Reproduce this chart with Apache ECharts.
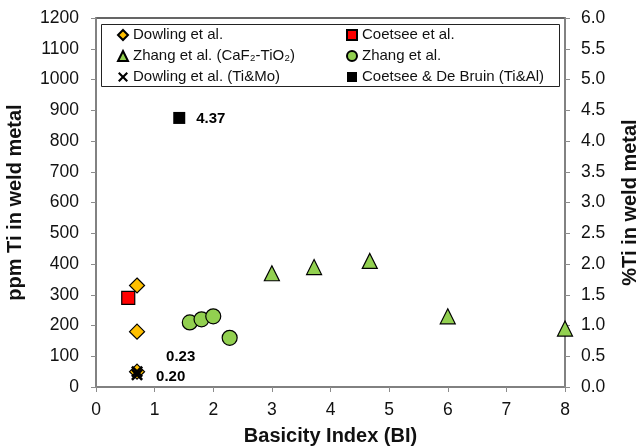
<!DOCTYPE html>
<html><head><meta charset="utf-8">
<script src="https://cdn.jsdelivr.net/npm/echarts@6/dist/echarts.min.js"></script>
<style>html,body{margin:0;padding:0;background:#fff}#c{width:639px;height:447px}</style>
</head><body><div id="c"></div>
<script>
// Data
const dowlingBI = [0.7, 0.7, 0.7];
const dowlingTi = [330, 180, 50];
const coetseeBI = [0.55];
const coetseeTi = [290];
const zhangCaF2BI = [3.0, 3.72, 4.67, 6.0, 8.0];
const zhangCaF2Ti = [370, 390, 410, 230, 190];
const zhangBI = [1.6, 1.8, 2.0, 2.28];
const zhangTi = [210, 220, 230, 160];
const dowlingMoBI = [0.7, 0.7];
const dowlingMoTi = [50, 40];
const dowlingMoLabels = ['0.23', '0.20'];
const cdbBI = [1.42];
const cdbTi = [875];
const cdbLabels = ['4.37'];
const seriesNames = ['Dowling et al.', 'Coetsee et al.', 'Zhang et al. (CaF\u2082-TiO\u2082)', 'Zhang et al.', 'Dowling et al. (Ti&Mo)', 'Coetsee & De Bruin (Ti&Al)'];

const zip = (a, b) => a.map((v, i) => [v, b[i]]);
const FONT = '"Liberation Sans", Arial, sans-serif';
const xPath = 'path://M0,1.5L1.5,0L5,3.5L8.5,0L10,1.5L6.5,5L10,8.5L8.5,10L5,6.5L1.5,10L0,8.5L3.5,5Z';
const axisColor = '#8c8c8c';
const txt = '#111';

const chart = echarts.init(document.getElementById('c'));
const labelStyle = {show: true, fontFamily: FONT, fontWeight: 'bold', fontSize: 15, color: '#000'};
const legendCommon = {orient: 'vertical', top: 22.5, itemGap: 6, itemWidth: 10, itemHeight: 10,
  textStyle: {fontSize: 15, lineHeight: 15, color: txt, fontFamily: FONT}};
chart.setOption({
  animation: false,
  textStyle: {fontFamily: FONT},
  grid: {left: 96, right: 74, top: 18, bottom: 60, show: true, borderColor: '#333', borderWidth: 1.5,
         outerBoundsMode: 'none', containLabel: false},
  legend: [
    Object.assign({left: 112, data: [seriesNames[0], seriesNames[2], seriesNames[4]]}, legendCommon),
    Object.assign({left: 341, data: [seriesNames[1], seriesNames[3], seriesNames[5]]}, legendCommon)
  ],
  graphic: [{type: 'rect', shape: {x: 101.5, y: 24.5, width: 458, height: 62}, style: {fill: 'none', stroke: '#222', lineWidth: 1}, z: 100}],
  xAxis: {
    type: 'value', min: 0, max: 8, interval: 1,
    name: 'Basicity Index (BI)', nameLocation: 'middle', nameGap: 39,
    nameTextStyle: {fontSize: 20, fontWeight: 'bold', color: txt, fontFamily: FONT},
    axisLine: {show: true, onZero: false, lineStyle: {color: axisColor, width: 1.5}},
    axisTick: {show: true, inside: false, length: 5, lineStyle: {color: axisColor}},
    axisLabel: {fontSize: 17.5, color: txt, margin: 14, fontFamily: FONT},
    splitLine: {show: false}
  },
  yAxis: [{
    type: 'value', min: 0, max: 1200, interval: 100,
    name: 'ppm Ti in weld metal', nameLocation: 'middle', nameGap: 71, nameRotate: 90,
    nameTextStyle: {fontSize: 20, fontWeight: 'bold', color: txt, fontFamily: FONT},
    axisLine: {show: true, lineStyle: {color: axisColor, width: 1.5}},
    axisTick: {show: true, length: 5, lineStyle: {color: axisColor}},
    axisLabel: {fontSize: 17.5, color: txt, margin: 17, fontFamily: FONT, formatter: v => String(v)},
    splitLine: {show: false}
  }, {
    type: 'value', min: 0, max: 6, interval: 0.5, position: 'right',
    name: '%Ti in weld metal', nameLocation: 'middle', nameGap: 55, nameRotate: 90,
    nameTextStyle: {fontSize: 20, fontWeight: 'bold', color: txt, fontFamily: FONT},
    axisLine: {show: true, lineStyle: {color: axisColor, width: 1.5}},
    axisTick: {show: true, length: 5, lineStyle: {color: axisColor}},
    axisLabel: {fontSize: 17.5, color: txt, margin: 16, fontFamily: FONT, formatter: v => v.toFixed(1)},
    splitLine: {show: false}
  }],
  series: [
    {name: seriesNames[0], type: 'scatter', symbol: 'diamond', symbolSize: 15, z: 2,
     itemStyle: {color: '#FFC000', borderColor: '#000', borderWidth: 1.2, opacity: 1},
     data: zip(dowlingBI, dowlingTi)},
    {name: seriesNames[1], type: 'scatter', symbol: 'rect', symbolSize: 13,
     itemStyle: {color: '#FF0000', borderColor: '#000', borderWidth: 1.2, opacity: 1},
     data: zip(coetseeBI, coetseeTi)},
    {name: seriesNames[2], type: 'scatter', symbol: 'triangle', symbolSize: 15,
     itemStyle: {color: '#92D050', borderColor: '#000', borderWidth: 1.2, opacity: 1},
     data: zip(zhangCaF2BI, zhangCaF2Ti)},
    {name: seriesNames[3], type: 'scatter', symbol: 'circle', symbolSize: 15,
     itemStyle: {color: '#92D050', borderColor: '#000', borderWidth: 1.2, opacity: 1},
     data: zip(zhangBI, zhangTi)},
    {name: seriesNames[4], type: 'scatter', symbol: xPath, symbolSize: 12, z: 3,
     itemStyle: {color: '#000', opacity: 1},
     data: zip(dowlingMoBI, dowlingMoTi).map((p, i) => ({value: p,
       label: Object.assign({}, labelStyle, {formatter: dowlingMoLabels[i], position: 'right',
         offset: i === 0 ? [18, -15] : [8, 2]})}))},
    {name: seriesNames[5], type: 'scatter', symbol: 'rect', symbolSize: 12,
     itemStyle: {color: '#000', opacity: 1},
     data: zip(cdbBI, cdbTi).map((p, i) => ({value: p,
       label: Object.assign({}, labelStyle, {formatter: cdbLabels[i], position: 'right', offset: [6, 1]})}))}
  ]
});
</script></body></html>
